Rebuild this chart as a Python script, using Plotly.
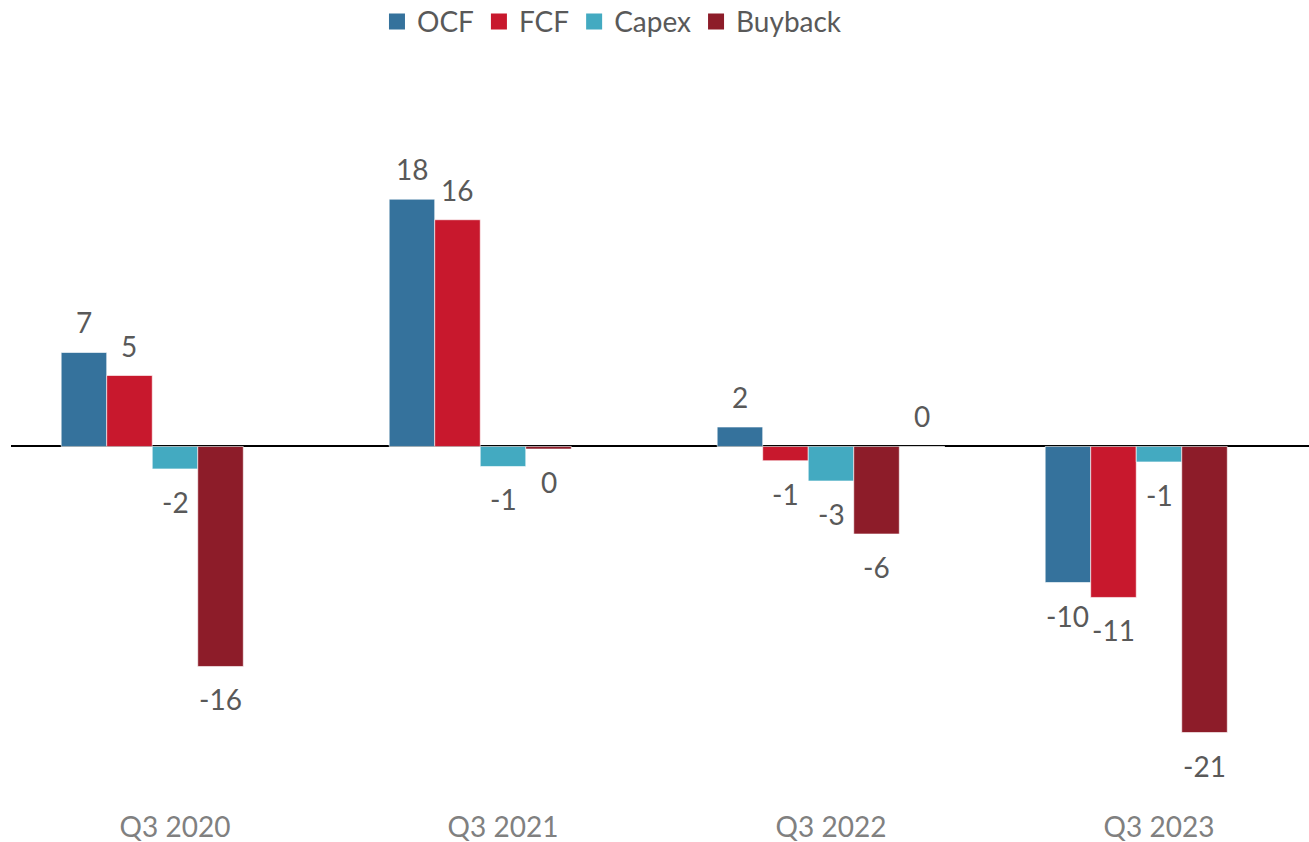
import plotly.graph_objects as go

categories = ["Q3 2020", "Q3 2021", "Q3 2022", "Q3 2023"]
series_names = ["OCF", "FCF", "Capex", "Buyback"]
ocf = [6.86, 18.05, 1.42, -9.93]
fcf = [5.18, 16.55, -1.04, -11.02]
capex = [-1.64, -1.46, -2.52, -1.13]
buyback = [-16.06, -0.19, -6.39, -20.88]
extra = [None, None, 0, None]

ocf_labels = ["7", "18", "2", "-10"]
fcf_labels = ["5", "16", "-1", "-11"]
capex_labels = ["-2", "-1", "-3", "-1"]
buyback_labels = ["-16", "0", "-6", "-21"]
extra_labels = [None, None, "0", None]

colors = ["#35729C", "#C8182D", "#43AAC1", "#8D1C29"]
FONT = "Lato"
LABEL_COLOR = "#595959"
FS = 28

all_vals = [ocf, fcf, capex, buyback, extra]
all_labels = [ocf_labels, fcf_labels, capex_labels, buyback_labels, extra_labels]
all_colors = colors + ["#7F7F7F"]

W, H = 1309, 842
ml, mr, mt, mb = 11, 0, 60, 34
bargap = 0.306
x_range = [-0.5, -0.5 + (W - ml - mr) / 328.0]
y_range = [-26.39, 28.21]

fig = go.Figure()
for i, vals in enumerate(all_vals):
    fig.add_trace(go.Bar(
        x=categories, y=vals,
        name=(series_names[i] if i < 4 else "Other"),
        marker=dict(color=all_colors[i], line=dict(color="rgba(255,255,255,0.6)", width=1)),
        showlegend=False,
    ))

# legend entries
for i, n in enumerate(series_names):
    fig.add_trace(go.Scatter(
        x=[None], y=[None], mode="markers", name=n,
        marker=dict(symbol="square", size=18, color=colors[i]),
        showlegend=True,
    ))

unit_px = (W - ml - mr) / (x_range[1] - x_range[0])
bar_px = unit_px * (1 - bargap) / 5
annotations = []
for i, vals in enumerate(all_vals):
    for j, v in enumerate(vals):
        lab = all_labels[i][j]
        if v is None or lab is None:
            continue
        annotations.append(dict(
            x=categories[j], y=v, xref="x", yref="y",
            text=lab, showarrow=False,
            xshift=(i - 2) * bar_px,
            yshift=(30 if v >= 0 else -33),
            font=dict(family=FONT, size=FS, color=LABEL_COLOR),
        ))

fig.update_layout(
    width=W, height=H,
    margin=dict(l=ml, r=mr, t=mt, b=mb, autoexpand=False),
    paper_bgcolor="white", plot_bgcolor="white",
    barmode="group", bargap=bargap, bargroupgap=0,
    font=dict(family=FONT, size=FS, color=LABEL_COLOR),
    legend=dict(
        orientation="h", x=0.463, xanchor="center", y=1.051, yanchor="middle",
        font=dict(family=FONT, size=FS, color=LABEL_COLOR),
        traceorder="normal", itemwidth=30,
    ),
    xaxis=dict(
        range=x_range, showgrid=False, showline=False, zeroline=False,
        ticks="", tickfont=dict(family=FONT, size=FS, color="#808080"),
        fixedrange=True,
    ),
    yaxis=dict(
        range=y_range, showgrid=False, showline=False, showticklabels=False,
        zeroline=True, zerolinecolor="black", zerolinewidth=2, ticks="",
    ),
    annotations=annotations,
)

fig.write_html(
    "out.html",
    config={"displayModeBar": False},
    post_script="document.body.style.margin='0';document.body.style.padding='0';document.body.style.overflow='hidden';",
)
